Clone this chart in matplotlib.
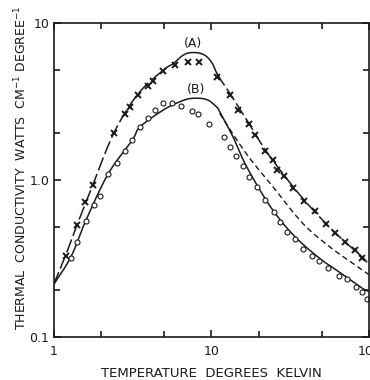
import matplotlib
matplotlib.use("Agg")
import numpy as np
import matplotlib.pyplot as plt
from matplotlib.ticker import FixedLocator, NullFormatter, FixedFormatter

# Data (T in K, conductivity in W cm^-1 K^-1)
cross_T = [1.196, 1.418, 1.585, 1.772, 2.416, 2.822, 3.05, 3.42, 3.94, 4.28, 4.95,
           5.87, 7.12, 8.32, 10.86, 13.18, 14.66, 17.2, 18.87, 22.0, 24.5, 26.1,
           28.8, 33.1, 38.7, 45.0, 53.0, 60.4, 69.8, 80.8, 89.5]
cross_k = [0.326, 0.515, 0.721, 0.934, 1.98, 2.62, 2.90, 3.49, 3.96, 4.30, 4.93,
           5.38, 5.62, 5.62, 4.54, 3.47, 2.79, 2.29, 1.93, 1.54, 1.34, 1.158,
           1.065, 0.885, 0.736, 0.635, 0.523, 0.463, 0.402, 0.356, 0.321]

circ_T = [1.293, 1.418, 1.608, 1.798, 1.971, 2.225, 2.512, 2.836, 3.155, 3.544,
          3.98, 4.41, 4.95, 5.59, 6.46, 7.51, 8.20, 9.67, 11.96, 13.18, 14.39,
          15.92, 17.3, 19.43, 21.93, 24.88, 27.4, 30.2, 33.8, 38.3, 43.2, 48.3,
          55.1, 64.0, 71.9, 82.4, 89.9, 96.7]
circ_k = [0.321, 0.404, 0.549, 0.694, 0.795, 1.10, 1.276, 1.536, 1.796, 2.18,
          2.466, 2.79, 3.116, 3.10, 2.95, 2.746, 2.628, 2.258, 1.867, 1.629, 1.428,
          1.233, 1.05, 0.898, 0.743, 0.623, 0.543, 0.469, 0.420, 0.366, 0.327, 0.303,
          0.277, 0.2466, 0.234, 0.207, 0.194, 0.1745]

curveA_T = [1.0, 1.196, 1.418, 1.772, 2.416, 3.42, 4.95, 5.73, 6.62, 7.48, 8.86,
            10.0, 11.0, 13.18, 17.2, 22.0, 28.8, 38.7, 53.0, 69.8, 89.5, 100.0]
curveA_k = [0.215, 0.334, 0.525, 0.929, 2.0, 3.52, 5.0, 5.51, 6.23, 6.48, 6.32,
            5.65, 4.65, 3.52, 2.31, 1.55, 1.076, 0.746, 0.530, 0.406, 0.326, 0.288]

curveB_T = [1.0, 1.293, 1.608, 2.225, 3.155, 3.53, 4.95, 6.31, 7.48, 9.30, 10.75,
            11.29, 13.7, 15.92, 19.43, 24.88, 33.8, 48.3, 64.0, 89.9, 100.0]
curveB_k = [0.215, 0.326, 0.557, 1.10, 1.796, 2.18, 2.79, 3.15, 3.31, 3.26, 2.93,
            2.72, 1.886, 1.34, 0.929, 0.629, 0.436, 0.318, 0.261, 0.205, 0.195]

curveC_T = [11.29, 16.6, 24.5, 37.9, 55.9, 78.5, 100.0]
curveC_k = [2.65, 1.477, 0.907, 0.530, 0.377, 0.295, 0.249]

x_major = [1, 10, 100]
x_labels = ["1", "10", "100"]
y_major = [0.1, 1.0, 10]
y_labels = ["0.1", "1.0", "10"]
minor_vals = [2, 5, 20, 50]
y_minor_vals = [0.2, 0.5, 2, 5]


def smooth(T, k, n=12):
    """Catmull-Rom rendering of a hand-drawn curve through its points (log space)."""
    x = np.log10(T)
    y = np.log10(k)
    P = np.column_stack([x, y])
    P = np.vstack([P[0] - (P[1] - P[0]), P, P[-1] + (P[-1] - P[-2])])
    out = []
    for i in range(1, len(P) - 2):
        p0, p1, p2, p3 = P[i - 1], P[i], P[i + 1], P[i + 2]
        for t in np.linspace(0, 1, n, endpoint=False):
            t2, t3 = t * t, t * t * t
            pt = 0.5 * ((2 * p1) + (-p0 + p2) * t + (2 * p0 - 5 * p1 + 4 * p2 - p3) * t2
                        + (-p0 + 3 * p1 - 3 * p2 + p3) * t3)
            out.append(pt)
    out.append(P[-2])
    out = np.array(out)
    return 10 ** out[:, 0], 10 ** out[:, 1]


fig = plt.figure(figsize=(3.7, 3.8), dpi=100)
ax = fig.add_axes([0.1446, 0.113, 0.998 - 0.1446, 0.9395 - 0.113])
ax.set_xscale("log")
ax.set_yscale("log")
ax.set_xlim(1, 100)
ax.set_ylim(0.1, 10)

col = "#1a1a1a"
aT, ak = smooth(curveA_T, curveA_k)
bT, bk = smooth(curveB_T, curveB_k)
cT, ck = smooth(curveC_T, curveC_k)
m0 = aT < 5.2
m2 = aT > 10.8
m1 = ~m0 & ~m2
i0 = np.where(m0)[0][-1]
i2 = np.where(m2)[0][0]
dash = (0, (9, 2.5))
ax.plot(aT[:i0 + 2], ak[:i0 + 2], color=col, lw=1.1, ls=dash)
ax.plot(aT[i0:i2 + 1], ak[i0:i2 + 1], color=col, lw=1.1)
ax.plot(aT[i2:], ak[i2:], color=col, lw=1.1, ls=dash)
ax.plot(bT, bk, color=col, lw=1.1)
ax.plot(cT, ck, color=col, lw=1.0, ls=(0, (4, 2.5)))

ax.plot(cross_T, cross_k, ls="none", marker="x", ms=4.2, mew=1.4, color=col)
ax.plot(circ_T, circ_k, ls="none", marker="o", ms=3.6, mew=0.8, mfc="white", mec=col)

ax.text(7.6, 7.4, "(A)", ha="center", va="center", fontsize=9, color=col)
ax.text(8.0, 3.77, "(B)", ha="center", va="center", fontsize=9, color=col)

ax.xaxis.set_major_locator(FixedLocator(x_major))
ax.xaxis.set_major_formatter(FixedFormatter(x_labels))
ax.xaxis.set_minor_locator(FixedLocator(minor_vals))
ax.xaxis.set_minor_formatter(NullFormatter())
ax.yaxis.set_major_locator(FixedLocator(y_major))
ax.yaxis.set_major_formatter(FixedFormatter(y_labels))
ax.yaxis.set_minor_locator(FixedLocator(y_minor_vals))
ax.yaxis.set_minor_formatter(NullFormatter())

ax.tick_params(which="both", direction="in", top=True, right=True, color=col, width=1.2)
ax.tick_params(which="major", length=5, labelsize=9, labelcolor=col)
ax.tick_params(which="minor", length=4)
ax.tick_params(axis="x", which="major", pad=6)
ax.tick_params(axis="y", which="major", pad=3)
for s in ax.spines.values():
    s.set_linewidth(1.2)
    s.set_color(col)

ax.set_xlabel("TEMPERATURE  DEGREES  KELVIN", fontsize=9.5, color=col, labelpad=6)
fig.text(0.058, 0.56, r"THERMAL  CONDUCTIVITY  WATTS  CM$^{-1}$ DEGREE$^{-1}$",
         rotation=90, ha="center", va="center", fontsize=9.0, color=col)

fig.savefig("out.png", dpi=100)
